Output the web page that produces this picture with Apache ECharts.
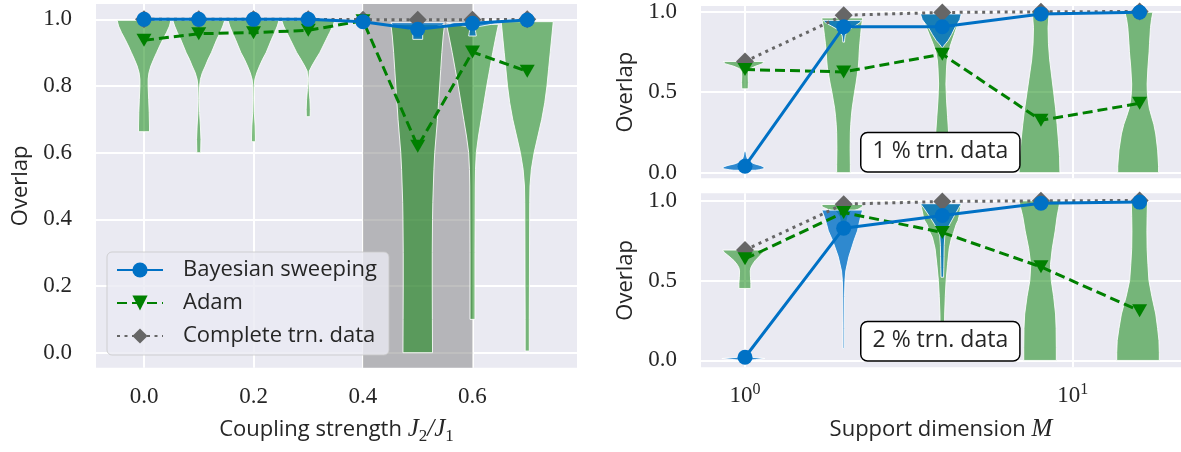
<!DOCTYPE html>
<html><head><meta charset="utf-8">
<script src="https://cdn.jsdelivr.net/npm/echarts@6/dist/echarts.min.js"></script>
<style>html,body{margin:0;padding:0;background:#fff}#c{width:1181px;height:452px}</style>
</head><body><div id="c"></div><script>
// ---------------- data ----------------
const couplings = [0, 0.1, 0.2, 0.3, 0.4, 0.5, 0.6, 0.7];
const leftBayes = [1.0, 1.0, 1.0, 1.0, 0.993, 0.970, 0.988, 0.998];
const leftAdam = [0.937, 0.957, 0.960, 0.967, 0.996, 0.619, 0.902, 0.844];
const leftComplete = [1.0, 1.0, 1.0, 1.0, 0.999, 0.999, 0.999, 1.0];
const leftXTicks = [0, 0.2, 0.4, 0.6];
const leftYTicks = [0, 0.2, 0.4, 0.6, 0.8, 1.0];
const shadedRange = [0.4, 0.6];

const dims = [1, 2, 4, 8, 16];
const top1Bayes = [0.04, 0.905, 0.905, 0.985, 0.995];
const top1Adam = [0.64, 0.625, 0.735, 0.325, 0.43];
const completeData = [0.69, 0.977, 0.994, 0.998, 1.0];
const bot2Bayes = [0.02, 0.827, 0.906, 0.983, 0.99];
const bot2Adam = [0.635, 0.925, 0.80, 0.585, 0.31];
const rightXTicks = [1, 10];
const rightYTicks = [0, 0.5, 1.0];

// violin profiles: [overlap, relative half-width]
const leftAdamViolins = [
  [[0.997,0.98],[0.98,0.93],[0.96,0.82],[0.94,0.69],[0.92,0.57],[0.9,0.46],[0.88,0.35],[0.86,0.25],[0.84,0.18],[0.82,0.15],[0.8,0.15],[0.76,0.17],[0.72,0.19],[0.68,0.2],[0.663,0.2]],
  [[0.997,0.95],[0.98,0.88],[0.96,0.78],[0.94,0.66],[0.92,0.56],[0.9,0.46],[0.88,0.34],[0.86,0.24],[0.84,0.13],[0.82,0.06],[0.8,0.03],[0.76,0.02],[0.72,0.03],[0.68,0.06],[0.64,0.08],[0.6,0.07]],
  [[0.997,0.93],[0.98,0.87],[0.96,0.77],[0.94,0.66],[0.92,0.56],[0.9,0.46],[0.88,0.33],[0.86,0.22],[0.84,0.12],[0.82,0.05],[0.8,0.025],[0.76,0.02],[0.72,0.03],[0.68,0.06],[0.65,0.07],[0.633,0.07]],
  [[0.997,0.97],[0.98,0.9],[0.96,0.78],[0.94,0.66],[0.92,0.54],[0.9,0.42],[0.88,0.27],[0.86,0.13],[0.845,0.04],[0.82,0.015],[0.79,0.03],[0.76,0.06],[0.73,0.075],[0.708,0.07]],
  [],
  [[0.985,0.98],[0.95,0.93],[0.9,0.88],[0.85,0.84],[0.8,0.8],[0.75,0.76],[0.7,0.72],[0.65,0.67],[0.6,0.62],[0.55,0.59],[0.5,0.57],[0.45,0.55],[0.4,0.54],[0.3,0.53],[0.2,0.53],[0.1,0.535],[0.0,0.54]],
  [[0.985,0.95],[0.95,0.86],[0.9,0.74],[0.85,0.63],[0.8,0.52],[0.75,0.42],[0.7,0.32],[0.65,0.22],[0.6,0.14],[0.55,0.11],[0.5,0.1],[0.4,0.095],[0.3,0.09],[0.2,0.09],[0.1,0.09]],
  [[0.993,0.95],[0.95,0.9],[0.9,0.84],[0.85,0.78],[0.8,0.72],[0.75,0.64],[0.7,0.53],[0.65,0.39],[0.6,0.25],[0.55,0.15],[0.5,0.1],[0.45,0.09],[0.35,0.085],[0.2,0.08],[0.1,0.075],[0.005,0.075]]
];
const leftBayesViolins = [
  [], [], [], [], [],
  [[0.99,0.98],[0.982,0.9],[0.975,0.5],[0.97,0.2],[0.955,0.18],[0.94,0.18]],
  [[0.99,0.95],[0.985,0.7],[0.978,0.2],[0.97,0.1],[0.96,0.12],[0.95,0.14]],
  []
];
const top1AdamViolins = [
  [[0.69,0.95],[0.675,0.85],[0.66,0.5],[0.645,0.25],[0.63,0.17],[0.6,0.15],[0.56,0.16],[0.52,0.15]],
  [[0.96,0.95],[0.9,0.88],[0.85,0.84],[0.8,0.8],[0.75,0.77],[0.7,0.75],[0.65,0.72],[0.6,0.66],[0.55,0.6],[0.5,0.53],[0.45,0.47],[0.4,0.41],[0.35,0.37],[0.3,0.34],[0.25,0.32],[0.15,0.31],[0.05,0.32],[0.0,0.32]],
  [[0.985,0.95],[0.95,0.85],[0.9,0.7],[0.857,0.58],[0.8,0.42],[0.754,0.3],[0.7,0.23],[0.65,0.2],[0.55,0.17],[0.45,0.2],[0.35,0.25],[0.25,0.3],[0.15,0.3],[0.1,0.28]],
  [[0.998,0.42],[0.97,0.38],[0.9,0.34],[0.8,0.36],[0.7,0.42],[0.6,0.52],[0.5,0.62],[0.4,0.72],[0.3,0.8],[0.2,0.87],[0.1,0.93],[0.0,0.95]],
  [[0.995,0.65],[0.95,0.58],[0.9,0.53],[0.8,0.48],[0.75,0.46],[0.65,0.4],[0.55,0.36],[0.5,0.37],[0.45,0.41],[0.4,0.47],[0.35,0.58],[0.3,0.7],[0.24,0.8],[0.14,0.9],[0.04,0.95],[0.0,0.95]]
];
const top1BayesViolins = [
  [[0.13,0.04],[0.11,0.06],[0.09,0.1],[0.07,0.2],[0.055,0.45],[0.045,0.75],[0.035,0.95],[0.025,0.95],[0.018,0.7],[0.015,0.5]],
  [[0.945,0.9],[0.93,0.8],[0.91,0.55],[0.89,0.3],[0.87,0.15],[0.85,0.07],[0.83,0.05],[0.81,0.04]],
  [[0.985,0.95],[0.95,0.88],[0.9,0.62],[0.857,0.45],[0.82,0.28],[0.8,0.15],[0.785,0.06],[0.775,0.02]],
  [], []
];
const bot2AdamViolins = [
  [[0.69,0.97],[0.675,0.9],[0.66,0.78],[0.64,0.62],[0.625,0.5],[0.6,0.36],[0.58,0.28],[0.56,0.25],[0.52,0.26],[0.48,0.28],[0.45,0.28]],
  [[0.975,0.95],[0.96,0.93],[0.945,0.7],[0.93,0.35],[0.9,0.2],[0.85,0.12],[0.8,0.08]],
  [[0.98,0.95],[0.95,0.9],[0.9,0.83],[0.875,0.78],[0.85,0.68],[0.8,0.55],[0.77,0.45],[0.7,0.33],[0.6,0.25],[0.5,0.18],[0.4,0.14],[0.29,0.11],[0.2,0.1],[0.1,0.09]],
  [[0.998,0.95],[0.95,0.88],[0.9,0.8],[0.81,0.7],[0.7,0.55],[0.6,0.46],[0.5,0.5],[0.4,0.62],[0.29,0.72],[0.2,0.75],[0.08,0.76],[0.0,0.76]],
  [[0.998,0.38],[0.9,0.36],[0.81,0.35],[0.7,0.36],[0.6,0.4],[0.5,0.45],[0.4,0.6],[0.29,0.8],[0.2,0.9],[0.125,0.97],[0.05,0.99],[0.0,0.99]]
];
const bot2BayesViolins = [
  [[0.03,0.02],[0.02,0.3],[0.012,1.0],[0.005,0.5],[0.0,0.1]],
  [[0.94,0.95],[0.9,0.85],[0.85,0.75],[0.81,0.68],[0.75,0.5],[0.71,0.4],[0.65,0.25],[0.56,0.1],[0.5,0.06],[0.4,0.04],[0.2,0.03],[0.075,0.03]],
  [[0.98,0.95],[0.95,0.8],[0.896,0.55],[0.85,0.35],[0.81,0.2],[0.78,0.12],[0.72,0.09],[0.65,0.08],[0.58,0.07],[0.52,0.06]],
  [], []
];

// ---------------- style ----------------
const BLUE = '#0071c5', GREEN = '#008000', GRAY = '#666666';
const GREEN_FILL = 'rgba(0,128,0,0.5)', BLUE_FILL = 'rgba(0,113,197,0.8)';
const TXT = '#262626';
const tickFont = {fontFamily: 'Liberation Serif', fontSize: 23, color: TXT};
const nameFont = {fontFamily: 'Open Sans', fontSize: 22, color: TXT};
const gridLine = {show: true, lineStyle: {color: '#ffffff', width: 2}};

const linHalf = (p, f) => [p - f * 0.05, p + f * 0.05];
const logHalf = (m, f) => [m * (1 - 0.15 * f), m * (1 + 0.15 * f)];

function violins(name, ax, positions, profiles, halfFn, fill, z) {
  return {
    type: 'custom', name: name, xAxisIndex: ax, yAxisIndex: ax, z: z, silent: true, clip: true,
    data: positions.map(p => [p, 0.5]),
    encode: {x: 0, y: 1},
    renderItem: (params, api) => {
      const prof = profiles[params.dataIndex];
      if (!prof || !prof.length) return null;
      const p = positions[params.dataIndex];
      const r = [], l = [];
      prof.forEach(([v, f]) => {
        const [lo, hi] = halfFn(p, f);
        r.push(api.coord([hi, v]));
        l.push(api.coord([lo, v]));
      });
      return {type: 'polygon', shape: {points: r.concat(l.reverse())},
        style: {fill: fill, stroke: 'rgba(255,255,255,0.85)', lineWidth: 1}};
    }
  };
}
function lineSet(ax, xs, bayes, adam, comp) {
  return [
    {type: 'line', name: 'Complete trn. data', xAxisIndex: ax, yAxisIndex: ax, z: 4,
     data: xs.map((x, i) => [x, comp[i]]), symbol: 'diamond', symbolSize: [18, 18],
     itemStyle: {color: GRAY}, lineStyle: {color: GRAY, width: 3, type: [3, 4.5]}},
    {type: 'line', name: 'Adam', xAxisIndex: ax, yAxisIndex: ax, z: 5,
     data: xs.map((x, i) => [x, adam[i]]), symbol: 'triangle', symbolRotate: 180, symbolSize: [15, 13],
     itemStyle: {color: GREEN}, lineStyle: {color: GREEN, width: 3, type: [10, 5]}},
    {type: 'line', name: 'Bayesian sweeping', xAxisIndex: ax, yAxisIndex: ax, z: 6,
     data: xs.map((x, i) => [x, bayes[i]]), symbol: 'circle', symbolSize: 15,
     itemStyle: {color: BLUE}, lineStyle: {color: BLUE, width: 3}}
  ];
}
const yAxisBase = (gi, min, max, ticks) => ({
  gridIndex: gi, type: 'value', min: min, max: max,
  axisLine: {show: false}, axisTick: {show: false, customValues: ticks},
  axisLabel: Object.assign({customValues: ticks, formatter: v => v.toFixed(1), margin: 24}, tickFont),
  splitLine: gridLine,
  name: 'Overlap', nameLocation: 'middle', nameGap: 64, nameTextStyle: nameFont
});
const logLabel = {
  customValues: rightXTicks, margin: 14,
  formatter: v => '{b|10}{s|' + Math.round(Math.log10(v)) + '}',
  rich: {b: {fontFamily: 'Liberation Serif', fontSize: 23, color: TXT, lineHeight: 30},
         s: {fontFamily: 'Liberation Serif', fontSize: 16, color: TXT, lineHeight: 16, verticalAlign: 'top'}}
};
const linLabel = {
  customValues: leftXTicks, margin: 14,
  formatter: v => '{b|' + v.toFixed(1) + '}',
  rich: {b: {fontFamily: 'Liberation Serif', fontSize: 23, color: TXT, lineHeight: 30}}
};

const option = {
  animation: false,
  backgroundColor: '#ffffff',
  grid: [
    {left: 96, top: 4, width: 481, height: 363.7, show: true, backgroundColor: '#eaeaf2', borderWidth: 0},
    {left: 701, top: 4, width: 480, height: 174.3, show: true, backgroundColor: '#eaeaf2', borderWidth: 0},
    {left: 701, top: 193.3, width: 480, height: 174, show: true, backgroundColor: '#eaeaf2', borderWidth: 0}
  ],
  xAxis: [
    {gridIndex: 0, type: 'value', min: -0.0877, max: 0.7909,
     axisLine: {show: false}, axisTick: {show: false, customValues: leftXTicks},
     axisLabel: linLabel,
     splitLine: gridLine,
     name: '{t|Coupling strength }{j|J}{sub|2}{j|/}{j|J}{sub|1}', nameLocation: 'middle', nameGap: 47,
     nameTextStyle: Object.assign({rich: {
       t: {fontFamily: 'Open Sans', fontSize: 22, color: TXT, lineHeight: 30},
       j: {fontFamily: 'Liberation Serif', fontStyle: 'italic', fontSize: 25, color: TXT, lineHeight: 30},
       sub: {fontFamily: 'Liberation Serif', fontSize: 17, color: TXT, lineHeight: 17, verticalAlign: 'bottom'}}}, nameFont)},
    {gridIndex: 1, type: 'log', logBase: 10, min: 0.734, max: 21.4,
     axisLine: {show: false}, axisTick: {show: false, customValues: rightXTicks},
     axisLabel: Object.assign({show: false}, logLabel), splitLine: gridLine, minorSplitLine: {show: false}},
    {gridIndex: 2, type: 'log', logBase: 10, min: 0.734, max: 21.4,
     axisLine: {show: false}, axisTick: {show: false, customValues: rightXTicks},
     axisLabel: logLabel, splitLine: gridLine, minorSplitLine: {show: false},
     name: '{t|Support dimension }{m|M}', nameLocation: 'middle', nameGap: 47,
     nameTextStyle: Object.assign({rich: {
       t: {fontFamily: 'Open Sans', fontSize: 22, color: TXT, lineHeight: 30},
       m: {fontFamily: 'Liberation Serif', fontStyle: 'italic', fontSize: 25, color: TXT, lineHeight: 30}}}, nameFont)}
  ],
  yAxis: [
    yAxisBase(0, -0.045, 1.046, leftYTicks),
    yAxisBase(1, -0.035, 1.034, rightYTicks),
    yAxisBase(2, -0.043, 1.045, rightYTicks)
  ],
  legend: {
    data: ['Bayesian sweeping', 'Adam', 'Complete trn. data'],
    orient: 'vertical', left: 107, top: 252, itemWidth: 46, itemHeight: 19, itemGap: 11,
    padding: [7, 12, 8, 9],
    backgroundColor: 'rgba(234,234,242,0.8)', borderColor: 'rgba(200,200,200,0.8)', borderWidth: 1, borderRadius: 5,
    textStyle: {fontFamily: 'Open Sans', fontSize: 22, color: TXT, padding: [0, 0, 0, 15]},
    selectedMode: false, z: 20
  },
  graphic: [
    {type: 'text', left: 860, top: 131.7, z: 100,
     style: {text: '1 % trn. data', fontFamily: 'Open Sans', fontSize: 23, fill: TXT,
       backgroundColor: '#ffffff', borderColor: '#000000', borderWidth: 1.5, borderRadius: 6, padding: [7, 11, 8, 11]}},
    {type: 'text', left: 860, top: 320.7, z: 100,
     style: {text: '2 % trn. data', fontFamily: 'Open Sans', fontSize: 23, fill: TXT,
       backgroundColor: '#ffffff', borderColor: '#000000', borderWidth: 1.5, borderRadius: 6, padding: [7, 11, 8, 11]}}
  ],
  series: [
    {type: 'line', name: 'band', xAxisIndex: 0, yAxisIndex: 0, z: 1, data: [], silent: true,
     markArea: {silent: true, itemStyle: {color: 'rgba(128,128,128,0.5)'},
       data: [[{xAxis: shadedRange[0]}, {xAxis: shadedRange[1]}]]}},
    violins('Adam violins', 0, couplings, leftAdamViolins, linHalf, GREEN_FILL, 2),
    violins('Bayes violins', 0, couplings, leftBayesViolins, linHalf, BLUE_FILL, 3),
    violins('Adam violins 1%', 1, dims, top1AdamViolins, logHalf, GREEN_FILL, 2),
    violins('Bayes violins 1%', 1, dims, top1BayesViolins, logHalf, BLUE_FILL, 3),
    violins('Adam violins 2%', 2, dims, bot2AdamViolins, logHalf, GREEN_FILL, 2),
    violins('Bayes violins 2%', 2, dims, bot2BayesViolins, logHalf, BLUE_FILL, 3),
    ...lineSet(0, couplings, leftBayes, leftAdam, leftComplete),
    ...lineSet(1, dims, top1Bayes, top1Adam, completeData),
    ...lineSet(2, dims, bot2Bayes, bot2Adam, completeData)
  ]
};
const chart = echarts.init(document.getElementById('c'), null, {renderer: 'canvas'});
chart.setOption(option);
</script></body></html>
